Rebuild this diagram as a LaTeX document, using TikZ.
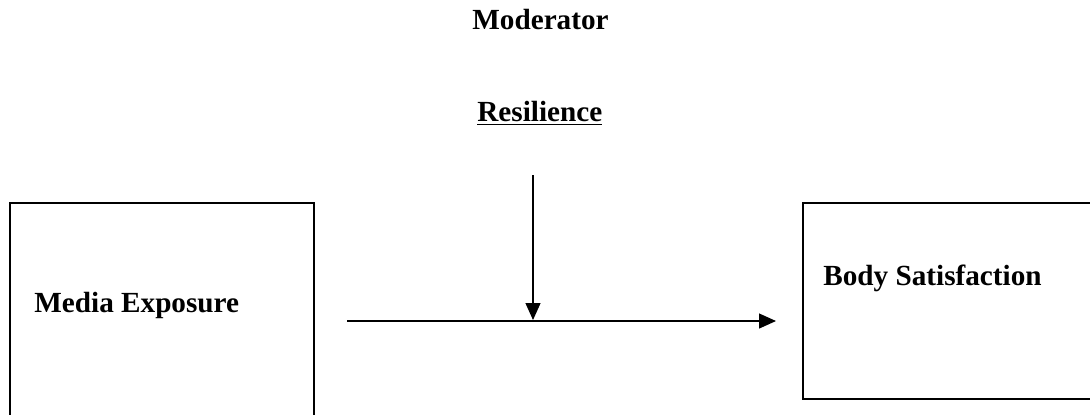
\documentclass[tikz,border=0pt]{standalone}
\usepackage{fontspec}
\setmainfont{Liberation Serif}
\usetikzlibrary{arrows.meta}

\tikzset{
  boxed/.style={draw, line width=1.2pt},
  lbl/.style={font=\fontsize{14.6}{17}\selectfont\bfseries, inner sep=0pt, anchor=base west},
  link/.style={line width=0.6pt, -{Triangle[length=8.5pt, width=7.5pt]}}
}

\begin{document}
\begin{tikzpicture}[x=0.5pt, y=-0.5pt]

\useasboundingbox (0,0) rectangle (1090,414);

\draw[boxed] (10,420) -- (10,203) -- (314,203) -- (314,420);
\draw[boxed] (1100,399) -- (803,399) -- (803,203) -- (1100,203);

\node[lbl] (moderator) at (472,29) {Moderator};
\node[lbl] (resilience) at (477,121) {\underline{Resilience}};
\node[lbl] (media) at (34,312) {Media Exposure};
\node[lbl] (body) at (823,285) {Body Satisfaction};

\coordinate (from) at (347,321);
\coordinate (to) at (776,321);
\coordinate (top) at (533,175);
\coordinate (hit) at (533,320);

\draw[link] (from) -- (to);
\draw[link] (top) -- (hit);

\end{tikzpicture}
\end{document}
